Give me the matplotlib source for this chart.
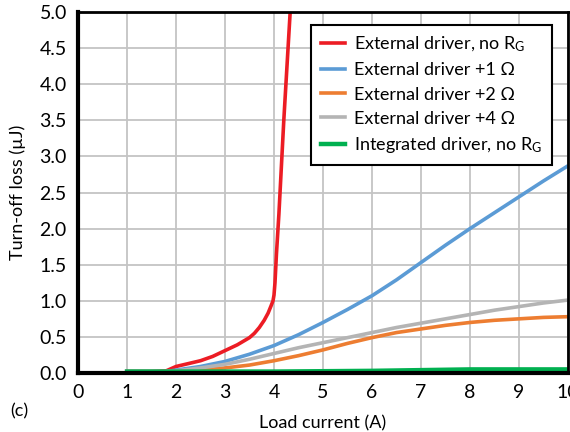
import matplotlib.pyplot as plt

# Load current (A) and turn-off loss (uJ)
x_red = [1.0, 1.5, 1.8, 1.9, 2.0, 2.25, 2.5, 2.75, 3.0, 3.25, 3.5, 3.6, 3.7, 3.8, 3.88, 3.94,
         3.98, 4.0, 4.02, 4.05, 4.1, 4.2, 4.33, 4.4]
y_red = [0.02, 0.02, 0.03, 0.06, 0.09, 0.13, 0.17, 0.23, 0.31, 0.39, 0.49, 0.55, 0.63, 0.73,
         0.83, 0.93, 1.0, 1.08, 1.25, 1.65, 2.2, 3.5, 5.0, 5.8]

x_blue = [1.0, 1.5, 1.8, 2.0, 2.5, 3.0, 3.5, 4.0, 4.5, 5.0, 5.5, 6.0, 6.5, 7.0, 7.5,
          8.0, 8.5, 9.0, 9.5, 10.0]
y_blue = [0.02, 0.02, 0.02, 0.04, 0.09, 0.16, 0.26, 0.38, 0.53, 0.70, 0.88, 1.07, 1.29, 1.53,
          1.77, 2.0, 2.22, 2.44, 2.66, 2.87]

x_orange = [1.0, 1.5, 1.8, 2.0, 2.5, 3.0, 3.5, 4.0, 4.5, 5.0, 5.5, 6.0, 6.5, 7.0, 7.5,
            8.0, 8.5, 9.0, 9.5, 10.0]
y_orange = [0.02, 0.02, 0.02, 0.02, 0.04, 0.07, 0.11, 0.17, 0.24, 0.32, 0.41, 0.49, 0.56, 0.61,
            0.66, 0.70, 0.73, 0.75, 0.77, 0.78]

x_gray = [1.0, 1.5, 1.8, 2.0, 2.5, 3.0, 3.5, 4.0, 4.5, 5.0, 5.5, 6.0, 6.5, 7.0, 7.5,
          8.0, 8.5, 9.0, 9.5, 10.0]
y_gray = [0.02, 0.02, 0.02, 0.03, 0.07, 0.12, 0.19, 0.27, 0.35, 0.42, 0.49, 0.56, 0.63, 0.69,
          0.75, 0.81, 0.87, 0.92, 0.97, 1.01]

x_green = [1.0, 2.0, 3.0, 4.0, 5.0, 6.0, 7.0, 8.0, 9.0, 10.0]
y_green = [0.02, 0.02, 0.02, 0.02, 0.025, 0.03, 0.04, 0.05, 0.05, 0.05]

labels = ['External driver, no R$_\\mathregular{G}$', 'External driver +1 Ω',
          'External driver +2 Ω', 'External driver +4 Ω',
          'Integrated driver, no R$_\\mathregular{G}$']
colors = ['#ec1c24', '#5b9bd5', '#ed7d31', '#b4b4b4', '#00b050']

xticks = list(range(0, 11))
yticks = [0.0, 0.5, 1.0, 1.5, 2.0, 2.5, 3.0, 3.5, 4.0, 4.5, 5.0]

plt.rcParams['font.family'] = ['Lato', 'DejaVu Sans']
plt.rcParams['mathtext.default'] = 'regular'

fig = plt.figure(figsize=(5.7, 4.32), dpi=100)
ax = fig.add_axes([78/570, 1 - 373/432, 490/570, 361/432])

series = [(x_red, y_red), (x_blue, y_blue), (x_orange, y_orange),
          (x_gray, y_gray), (x_green, y_green)]
for (xs, ys), lab, c in zip(series, labels, colors):
    lw = 3.2 if c == '#00b050' else 2.6
    ax.plot(xs, ys, color=c, lw=lw, label=lab, solid_joinstyle='round')

ax.set_xlim(0, 10)
ax.set_ylim(0, 5)
ax.set_xticks(xticks)
ax.set_yticks(yticks)
ax.set_yticklabels(['%.1f' % v for v in yticks])
ax.tick_params(length=0, labelsize=14, pad=8)
ax.grid(True, color='#c4c4c4', lw=1.3)
ax.set_axisbelow(True)

for side in ['left', 'bottom']:
    ax.spines[side].set_linewidth(3)
for side in ['top', 'right']:
    ax.spines[side].set_linewidth(2)

ax.set_xlabel('Load current (A)', fontsize=13, labelpad=10)
ax.set_ylabel('Turn-off loss (µJ)', fontsize=13, labelpad=10)
fig.text(10/570, 1 - 411/432, '(c)', fontsize=13, va='center')

leg = ax.legend(loc='upper right', bbox_to_anchor=(552/570, 1 - 25/432),
                bbox_transform=fig.transFigure, fontsize=13,
                frameon=True, fancybox=False, handlelength=1.3,
                handletextpad=0.5, labelspacing=0.45, borderpad=0.55,
                borderaxespad=0)
leg.get_frame().set_edgecolor('black')
leg.get_frame().set_linewidth(1.5)
leg.get_frame().set_alpha(1)

fig.savefig('out.png', dpi=100)
